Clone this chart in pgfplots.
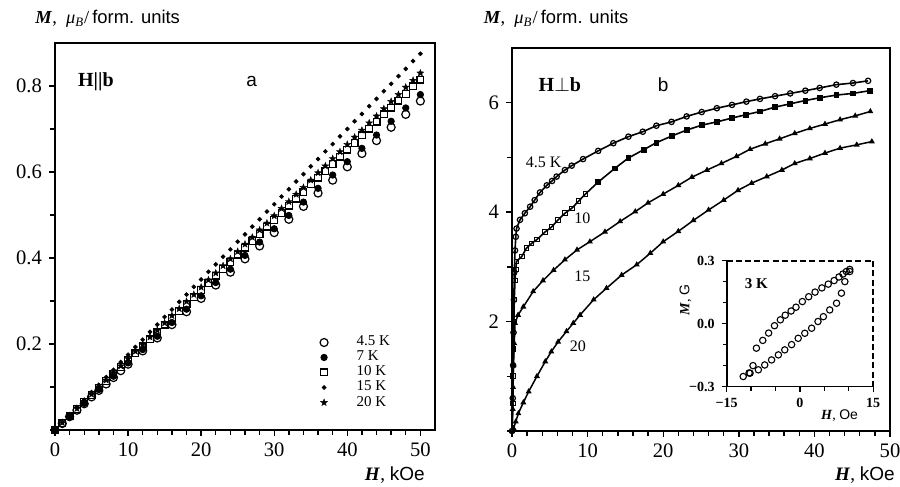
\documentclass[border=0pt]{standalone}
\usepackage{fontspec}
\setmainfont{Liberation Serif}
\setsansfont{Liberation Sans}
\usepackage{pgfplots}
\pgfplotsset{compat=1.18}

\pgfdeclareplotmark{fstar}{%
 \pgfpathmoveto{\pgfpointpolar{90}{\pgfplotmarksize}}%
 \pgfpathlineto{\pgfpointpolar{126}{0.42\pgfplotmarksize}}%
 \pgfpathlineto{\pgfpointpolar{162}{\pgfplotmarksize}}%
 \pgfpathlineto{\pgfpointpolar{198}{0.42\pgfplotmarksize}}%
 \pgfpathlineto{\pgfpointpolar{234}{\pgfplotmarksize}}%
 \pgfpathlineto{\pgfpointpolar{270}{0.42\pgfplotmarksize}}%
 \pgfpathlineto{\pgfpointpolar{306}{\pgfplotmarksize}}%
 \pgfpathlineto{\pgfpointpolar{342}{0.42\pgfplotmarksize}}%
 \pgfpathlineto{\pgfpointpolar{18}{\pgfplotmarksize}}%
 \pgfpathlineto{\pgfpointpolar{54}{0.42\pgfplotmarksize}}%
 \pgfpathclose
 \pgfusepathqfillstroke}

\pgfplotsset{
 myax/.style={scale only axis, anchor=south west,
   axis line style={line width=0.9pt},
   tick style={line width=0.7pt, black},
   tick align=outside, tick pos=left,
   major tick length=3pt, minor tick length=2.6pt,
   tick label style={font=\fontsize{10.3}{12}\selectfont},
   /pgf/number format/assume math mode=true,
   clip=false},
}

\begin{document}
\begin{tikzpicture}
\useasboundingbox (0,0) rectangle (450pt,243.5pt);

% ---------------- panel a ----------------
\begin{axis}[myax, at={(27.5pt,28.5pt)}, width=190pt, height=193.5pt,
  xmin=0, xmax=52, ymin=0, ymax=0.9,
  xtick={0,10,20,30,40,50}, xticklabels={0,10,20,30,40,50},
  minor x tick num=4,
  ytick={0.2,0.4,0.6,0.8}, yticklabels={0.2,0.4,0.6,0.8},
  minor ytick={0,0.1,0.3,0.5,0.7},
  legend style={at={(axis cs:35.6,0.224)}, anchor=north west, draw=none, fill=none,
    font=\fontsize{7.5}{8}\selectfont, row sep=-0.95pt, inner sep=0pt,
    nodes={inner sep=1pt},
    /tikz/every odd column/.append style={column sep=6pt}},
  legend cell align=left,
  legend image code/.code={\path[draw=none,fill=none] (0cm,-0.05cm) rectangle (0.3cm,0.05cm);\draw plot[only marks] coordinates {(0.15cm,0cm)};},
]
% 4.5 K open circles
\addplot[only marks, mark=o, mark size=2pt, mark options={line width=0.6pt, fill=white}] table {
x y
0 0
1 0.015
2 0.031
3 0.046
4 0.061
5 0.077
6 0.092
7 0.107
8 0.122
9 0.138
10 0.153
12 0.184
14 0.214
16 0.245
18 0.275
20 0.306
22 0.337
24 0.367
26 0.398
28 0.428
30 0.459
32 0.490
34 0.520
36 0.551
38 0.581
40 0.612
42 0.643
44 0.673
46 0.704
48 0.734
50 0.765
};
\addlegendentry{\hspace*{5pt}4.5 K}
% 7 K filled circles
\addplot[only marks, mark=*, mark size=1.6pt] table {
x y
0 0
2 0.031
4 0.062
6 0.094
8 0.125
10 0.156
12 0.187
14 0.218
16 0.250
18 0.281
20 0.312
22 0.343
24 0.374
26 0.406
28 0.437
30 0.468
32 0.499
34 0.530
36 0.562
38 0.593
40 0.624
42 0.655
44 0.686
46 0.718
48 0.749
50 0.780
};
\addlegendentry{\hspace*{5pt}7 K}
% 10 K open squares
\addplot[only marks, mark=square, mark size=1.7pt, mark options={line width=0.6pt, fill=white}] table {
x y
0 0
1 0.016
2 0.033
3 0.049
4 0.065
5 0.082
6 0.098
7 0.114
8 0.130
9 0.147
10 0.163
11 0.179
12 0.196
13 0.212
14 0.228
15 0.245
16 0.261
17 0.277
18 0.293
19 0.310
20 0.326
21 0.342
22 0.359
23 0.375
24 0.391
25 0.408
26 0.424
27 0.440
28 0.456
29 0.473
30 0.489
31 0.505
32 0.522
33 0.538
34 0.554
35 0.571
36 0.587
37 0.603
38 0.619
39 0.636
40 0.652
41 0.668
42 0.685
43 0.701
44 0.717
45 0.734
46 0.750
47 0.766
48 0.782
49 0.799
50 0.815
};
\addlegendentry{\hspace*{5pt}10 K}
% 15 K dots
\addplot[only marks, mark=*, mark size=0.95pt] table {
x y
0 0
1 0.018
2 0.035
3 0.053
4 0.070
5 0.088
6 0.105
7 0.123
8 0.140
9 0.158
10 0.175
11 0.193
12 0.210
13 0.228
14 0.245
15 0.263
16 0.280
17 0.298
18 0.315
19 0.333
20 0.350
21 0.368
22 0.385
23 0.403
24 0.420
25 0.438
26 0.455
27 0.473
28 0.490
29 0.508
30 0.525
31 0.543
32 0.560
33 0.578
34 0.595
35 0.613
36 0.630
37 0.648
38 0.665
39 0.683
40 0.700
41 0.718
42 0.735
43 0.753
44 0.770
45 0.788
46 0.805
47 0.823
48 0.840
49 0.858
50 0.875
};
\addlegendentry{\hspace*{5pt}15 K}
% 20 K stars
\addplot[only marks, mark=fstar, mark size=1.8pt, mark options={line width=0.2pt}] table {
x y
0 0
1 0.017
2 0.033
3 0.050
4 0.066
5 0.083
6 0.100
7 0.116
8 0.133
9 0.149
10 0.166
11 0.183
12 0.199
13 0.216
14 0.232
15 0.249
16 0.266
17 0.282
18 0.299
19 0.315
20 0.332
21 0.349
22 0.365
23 0.382
24 0.398
25 0.415
26 0.432
27 0.448
28 0.465
29 0.481
30 0.498
31 0.515
32 0.531
33 0.548
34 0.564
35 0.581
36 0.598
37 0.614
38 0.631
39 0.647
40 0.664
41 0.681
42 0.697
43 0.714
44 0.730
45 0.747
46 0.764
47 0.780
48 0.797
49 0.813
50 0.830
};
\addlegendentry{\hspace*{5pt}20 K}
\node[anchor=west, font=\bfseries\fontsize{10}{12}\selectfont] at (axis cs:2.2,0.81) {H||b};
\node[font=\sffamily\fontsize{9.5}{11}\selectfont] at (axis cs:26.9,0.81) {a};
\end{axis}

% ---------------- panel b ----------------
\begin{axis}[myax, at={(256pt,28pt)}, width=189pt, height=191.5pt,
  xmin=0, xmax=50, ymin=0, ymax=7,
  xtick={0,10,20,30,40,50}, xticklabels={0,10,20,30,40,50},
  minor x tick num=4,
  ytick={2,4,6}, yticklabels={2,4,6},
  minor ytick={0,1,3,5},
]
% 4.5 K
\addplot[line width=0.8pt, mark=o, mark size=1.35pt, mark options={line width=0.6pt, fill=white}] table {
x y
0 0
0.1 0.6
0.15 1.2
0.2 1.8
0.25 2.4
0.3 2.9
0.4 3.3
0.5 3.55
0.6 3.70
1.06 3.86
1.7 3.98
2.4 4.10
3.0 4.22
3.7 4.36
4.6 4.49
5.3 4.57
5.9 4.65
7.0 4.77
7.9 4.85
9.4 4.97
11.4 5.12
13.4 5.26
15.4 5.38
17.3 5.47
19.1 5.58
21.1 5.65
23.1 5.75
25.1 5.83
27.1 5.90
29.1 5.96
31.0 6.02
32.8 6.07
34.8 6.12
36.8 6.17
38.8 6.22
40.7 6.27
42.9 6.33
45.1 6.36
47.1 6.40
};
% 10 K line
\addplot[line width=0.8pt] table {
x y
0 0
0.1 0.5
0.15 1.0
0.2 1.5
0.25 2.0
0.3 2.4
0.4 2.75
0.5 2.95
0.6 3.10
1.3 3.19
1.9 3.34
2.6 3.43
3.3 3.50
4.4 3.64
5.25 3.73
6.1 3.86
7.0 3.98
7.9 4.07
8.8 4.20
9.7 4.33
11.4 4.55
13.6 4.80
15.4 4.99
17.4 5.14
19.1 5.27
21.1 5.39
23.1 5.50
25.1 5.59
27.1 5.65
29.1 5.72
30.9 5.78
32.8 5.84
34.8 5.92
36.8 5.98
38.8 6.04
40.7 6.09
42.9 6.14
45.1 6.17
47.3 6.22
};
\addplot[only marks, mark=square, mark size=1.15pt, mark options={line width=0.5pt, fill=white}] table {
x y
0.1 0.5
0.15 1.0
0.2 1.5
0.25 2.0
0.3 2.4
0.4 2.75
0.5 2.95
0.6 3.10
1.3 3.19
1.9 3.34
2.6 3.43
3.3 3.50
4.4 3.64
5.25 3.73
6.1 3.86
7.0 3.98
7.9 4.07
8.8 4.20
9.7 4.33
};
\addplot[only marks, mark=square*, mark size=1.2pt] table {
x y
11.4 4.55
13.6 4.80
15.4 4.99
17.4 5.14
19.1 5.27
21.1 5.39
23.1 5.50
25.1 5.59
27.1 5.65
29.1 5.72
30.9 5.78
32.8 5.84
34.8 5.92
36.8 5.98
38.8 6.04
40.7 6.09
42.9 6.14
45.1 6.17
47.3 6.22
};
% 15 K
\addplot[line width=0.75pt, mark=triangle*, mark size=1.0pt] table {
x y
0 0
0.1 0.4
0.15 0.8
0.2 1.2
0.3 1.6
0.4 1.97
0.8 2.12
1.5 2.27
2.8 2.55
4.1 2.75
5.5 2.94
7.0 3.13
8.6 3.31
10.3 3.46
12.3 3.64
14.3 3.83
16.3 4.01
18.0 4.17
20.0 4.33
22.0 4.49
23.8 4.64
25.8 4.77
27.7 4.89
29.7 5.02
31.5 5.15
33.5 5.25
35.4 5.34
37.4 5.44
39.4 5.53
41.4 5.61
43.4 5.69
45.4 5.76
47.4 5.84
};
% 20 K
\addplot[line width=0.75pt, mark=triangle*, mark size=1.0pt] table {
x y
0 0
0.2 0.05
0.5 0.17
0.84 0.32
1.5 0.52
2.2 0.72
3.3 1.00
4.4 1.27
5.2 1.45
6.1 1.63
7.2 1.82
8.1 1.97
9.0 2.12
10.8 2.40
12.5 2.61
14.5 2.85
16.5 3.04
18.3 3.25
20.0 3.46
22.0 3.65
24.0 3.85
26.0 4.04
28.0 4.22
29.9 4.40
31.7 4.53
33.7 4.65
35.7 4.77
37.4 4.89
39.4 4.98
41.4 5.08
43.4 5.17
45.6 5.23
47.6 5.29
};
\node[anchor=west, font=\bfseries\fontsize{10}{12}\selectfont] at (axis cs:2.6,6.33) {H$\perp$b};
\node[font=\sffamily\fontsize{9.5}{11}\selectfont] at (axis cs:20,6.33) {b};
\node[font=\fontsize{8}{9}\selectfont] at (axis cs:4.2,4.91) {4.5 K};
\node[font=\fontsize{8}{9}\selectfont] at (axis cs:9.3,3.88) {10};
\node[font=\fontsize{8}{9}\selectfont] at (axis cs:9.3,2.83) {15};
\node[font=\fontsize{8}{9}\selectfont] at (axis cs:8.7,1.54) {20};
\end{axis}

% ---------------- inset ----------------
\begin{axis}[scale only axis, anchor=south west, at={(363.3pt,50.2pt)},
  width=73.3pt, height=63pt,
  xmin=-15, xmax=15, ymin=-0.3, ymax=0.3,
  axis x line*=bottom, axis y line*=left,
  axis line style={-, line width=0.9pt},
  tick style={line width=0.6pt, black},
  tick align=outside, major tick length=2.5pt, minor tick length=2pt,
  xtick={-15,0,15}, xticklabels={−15,0,15},
  minor xtick={-10,-5,5,10},
  ytick={-0.3,0,0.3}, yticklabels={−0.3,0.0,0.3},
  minor ytick={-0.2,-0.1,0.1,0.2},
  tick label style={font=\bfseries\fontsize{7}{8}\selectfont},
  clip=false,
]
\draw[line width=0.9pt, dash pattern=on 3pt off 1.6pt] (rel axis cs:0,1) -- (rel axis cs:1,1) -- (rel axis cs:1,0);
\addplot[only marks, mark=o, mark size=1.6pt, mark options={line width=0.55pt}] table {
x y
10.2 0.258
9.5 0.248
8.8 0.236
8.0 0.222
7.0 0.205
5.8 0.188
4.5 0.170
3.1 0.150
1.8 0.128
0.5 0.105
-0.8 0.078
-1.8 0.060
-3.0 0.040
-4.0 0.018
-5.2 -0.010
-6.4 -0.045
-7.6 -0.080
-8.9 -0.117
-9.6 -0.200
-10.4 -0.235
-11.6 -0.252
};
\addplot[only marks, mark=o, mark size=1.6pt, mark options={line width=0.55pt}] table {
x y
-10.2 -0.236
-8.5 -0.220
-7.2 -0.197
-5.8 -0.173
-4.4 -0.149
-3.1 -0.125
-1.7 -0.100
-0.35 -0.070
1.0 -0.046
2.4 -0.022
3.7 0.010
4.8 0.033
6.1 0.065
7.5 0.097
8.5 0.145
9.2 0.200
10.2 0.248
};
\node[font=\bfseries\fontsize{7.5}{9}\selectfont] at (axis cs:-8.9,0.19) {3 K};
\node[font=\fontsize{7}{8}\selectfont] at (rel axis cs:0.77,-0.23) {\textbf{\textit{H}}, \textsf{Oe}};
\node[rotate=90, font=\fontsize{7}{8}\selectfont] at (rel axis cs:-0.28,0.69) {\textbf{\textit{M}}, \textsf{G}};
\end{axis}

% ---------------- outer labels ----------------
\node[anchor=base west, inner sep=0pt, font=\fontsize{9.2}{11}\selectfont] at (17.5pt,231.5pt) {\textbf{\textit{M}}, \ \textit{μ\textsubscript{B}}/\,\textsf{form. units}};
\node[anchor=base west, inner sep=0pt, font=\fontsize{9.2}{11}\selectfont] at (241.7pt,231.5pt) {\textbf{\textit{M}}, \ \textit{μ\textsubscript{B}}/\,\textsf{form. units}};
\node[anchor=base east, inner sep=0pt, font=\fontsize{9.5}{11}\selectfont] at (212.5pt,3.2pt) {\textbf{\textit{H}}, \textsf{kOe}};
\node[anchor=base east, inner sep=0pt, font=\fontsize{9.5}{11}\selectfont] at (447.5pt,3.2pt) {\textbf{\textit{H}}, \textsf{kOe}};
\end{tikzpicture}
\end{document}
